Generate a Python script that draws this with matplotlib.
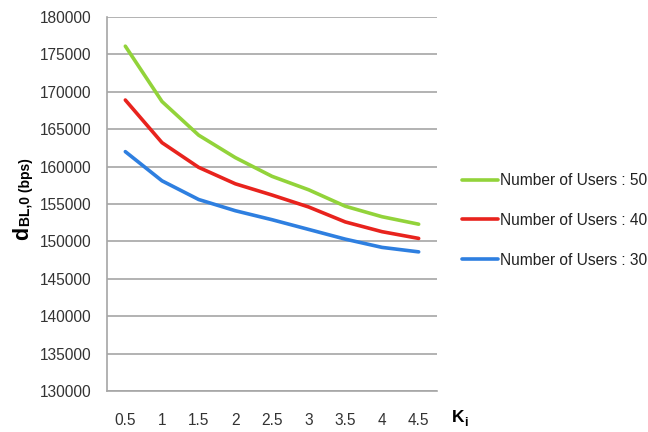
import matplotlib
matplotlib.use("Agg")
import matplotlib.pyplot as plt

categories = ["0.5", "1", "1.5", "2", "2.5", "3", "3.5", "4", "4.5"]
users_50 = [176100, 168700, 164200, 161200, 158700, 156900, 154700, 153300, 152300]
users_40 = [168900, 163200, 159900, 157700, 156200, 154600, 152600, 151300, 150400]
users_30 = [162000, 158100, 155600, 154100, 152900, 151600, 150300, 149200, 148600]
series_labels = ["Number of Users : 50", "Number of Users : 40", "Number of Users : 30"]
colors = ["#92D33A", "#E8231D", "#2E7FE0"]
yticks = list(range(130000, 180001, 5000))

plt.rcParams['font.family'] = ['Liberation Sans', 'DejaVu Sans']

W, H = 648, 432
fig = plt.figure(figsize=(6.48, 4.32), dpi=100)
ax = fig.add_axes([107/W, 1 - 391/H, 330/W, 374/H])

x = list(range(len(categories)))
for vals, lab, c in zip([users_50, users_40, users_30], series_labels, colors):
    ax.plot(x, vals, color=c, lw=2.6, label=lab, solid_capstyle='round')

ax.set_xlim(-0.5, len(categories) - 0.5)
ax.set_ylim(130000, 180000)
ax.set_yticks(yticks)
ax.set_yticklabels([str(v) for v in yticks], fontsize=11.2, color='#333333')
ax.set_xticks(x)
ax.set_xticklabels(categories, fontsize=11.2, color='#333333')
ax.tick_params(axis='y', length=0, pad=11.5)
ax.tick_params(axis='x', length=0, pad=16)
ax.yaxis.grid(True, color='#A6A6A6', lw=1.2)
ax.set_axisbelow(True)
for s in ['top', 'right']:
    ax.spines[s].set_visible(False)
for s in ['left', 'bottom']:
    ax.spines[s].set_color('#A6A6A6')
    ax.spines[s].set_linewidth(1.2)

# y-axis label: big "d" with subscript "BL,0 (bps)"
fig.text(28/W, 1 - 240/H, 'd', rotation=90, rotation_mode='anchor',
         fontsize=15.5, fontweight='bold', ha='left', va='baseline')
fig.text(30/W, 1 - 226/H, 'BL,0 (bps)', rotation=90, rotation_mode='anchor',
         fontsize=10, fontweight='bold', ha='left', va='baseline')

# x-axis label: "K" with subscript "i"
fig.text(452/W, 1 - 422/H, 'K', fontsize=12.5, fontweight='bold',
         ha='left', va='baseline')
fig.text(464.5/W, 1 - 426/H, 'i', fontsize=9, fontweight='bold',
         ha='left', va='baseline')

leg = fig.legend(loc='upper left', bbox_to_anchor=(462/W, 1 - 173/H), frameon=False,
                 fontsize=11.2, handlelength=2.3, handletextpad=0.15,
                 labelspacing=1.6, borderpad=0, borderaxespad=0)
for t in leg.get_texts():
    t.set_color('#222222')

fig.savefig("out.png", dpi=100)
